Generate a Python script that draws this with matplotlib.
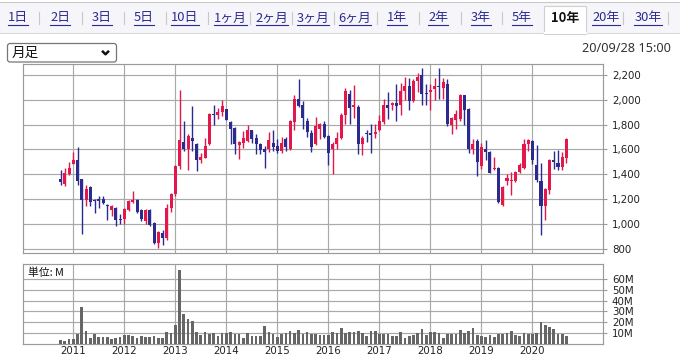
import numpy as np
import matplotlib
matplotlib.use('Agg')
import matplotlib.pyplot as plt
from matplotlib.patches import Rectangle, FancyBboxPatch

# ---------------- data (monthly, Oct 2010 .. Sep 2020) ----------------
years = ['2011', '2012', '2013', '2014', '2015', '2016', '2017', '2018', '2019', '2020']
first_month_offset = 3  # Oct, Nov, Dec 2010 precede Jan 2011

opens = [
    1360, 1323, 1400,
    1483, 1515, 1360, 1195, 1299, 1195, 1200, 1200, 1155, 1110, 1131, 1043,
    1043, 1109, 1176, 1192, 1112, 1021, 1115, 1008, 845, 924, 884, 1125,
    1240, 1466, 1662, 1600, 1694, 1645, 1511, 1533, 1640, 1885, 1877, 1903,
    1922, 1823, 1774, 1635, 1654, 1667, 1753, 1694, 1640, 1606, 1603, 1654,
    1625, 1585, 1687, 1606, 1822, 2003, 1957, 1830, 1733, 1641, 1768, 1808,
    1706, 1600, 1641, 1695, 1876, 2043, 1938, 1943, 1641, 1733, 1729, 1724,
    1759, 1818, 1959, 1954, 1973, 1954, 2070, 2108, 1989, 2149, 2198, 2054,
    2060, 2087, 2108, 2095, 2125, 1797, 1837, 1846, 2035, 1927, 1602, 1665,
    1467, 1603, 1583, 1442, 1450, 1152, 1343, 1343, 1343, 1415, 1450, 1640,
    1669, 1478, 1343, 1143, 1277, 1512, 1487, 1455, 1527,
]
highs = [
    1435, 1448, 1501,
    1576, 1621, 1365, 1315, 1307, 1200, 1227, 1227, 1163, 1155, 1136, 1077,
    1128, 1195, 1265, 1200, 1117, 1120, 1120, 1013, 945, 950, 1160, 1250,
    1475, 2075, 1828, 1721, 1949, 1652, 1573, 1694, 1895, 1960, 1935, 2000,
    1925, 1830, 1780, 1667, 1748, 1800, 1757, 1720, 1654, 1625, 1741, 1754,
    1687, 1700, 1700, 1835, 2038, 2170, 1992, 1849, 1754, 1862, 1814, 1830,
    1714, 1660, 1741, 1889, 2092, 2078, 2119, 1957, 1706, 1754, 1805, 1805,
    1873, 2008, 2062, 1981, 2125, 2135, 2179, 2171, 2163, 2211, 2252, 2130,
    2125, 2171, 2252, 2171, 2163, 1859, 1913, 2043, 2040, 1930, 1685, 1683,
    1650, 1674, 1588, 1540, 1455, 1303, 1400, 1417, 1424, 1490, 1686, 1686,
    1672, 1635, 1490, 1290, 1526, 1585, 1594, 1580, 1695,
]
lows = [
    1315, 1307, 1395,
    1480, 1315, 920, 1147, 1147, 1091, 1128, 1163, 1029, 1064, 981, 1000,
    1003, 1101, 1171, 1091, 1021, 1003, 981, 835, 805, 832, 871, 1100,
    1226, 1439, 1590, 1431, 1587, 1425, 1492, 1528, 1635, 1800, 1842, 1868,
    1833, 1640, 1560, 1520, 1610, 1660, 1655, 1560, 1560, 1450, 1579, 1587,
    1571, 1575, 1587, 1598, 1754, 1943, 1768, 1700, 1579, 1633, 1687, 1695,
    1471, 1403, 1606, 1687, 1808, 1808, 1849, 1565, 1552, 1660, 1575, 1691,
    1751, 1805, 1846, 1913, 1832, 1873, 1995, 1913, 1985, 2062, 1954, 1954,
    1913, 1995, 2008, 2008, 1791, 1724, 1764, 1832, 1800, 1575, 1560, 1383,
    1440, 1515, 1408, 1437, 1168, 1145, 1313, 1230, 1340, 1410, 1445, 1590,
    1480, 1337, 908, 1036, 1243, 1440, 1434, 1437, 1490,
]
closes = [
    1339, 1413, 1453,
    1515, 1349, 1195, 1280, 1173, 1184, 1187, 1165, 1141, 1147, 1029, 1029,
    1120, 1181, 1192, 1096, 1040, 1109, 995, 848, 937, 884, 1125, 1240,
    1466, 1672, 1600, 1707, 1667, 1511, 1538, 1627, 1882, 1878, 1898, 1946,
    1836, 1766, 1640, 1662, 1694, 1753, 1680, 1640, 1595, 1579, 1673, 1619,
    1587, 1650, 1619, 1830, 2003, 1949, 1849, 1741, 1619, 1787, 1808, 1700,
    1571, 1646, 1695, 1876, 2070, 1930, 1957, 1641, 1695, 1722, 1718, 1743,
    1827, 1954, 1932, 1973, 1949, 2070, 2108, 1989, 2149, 2184, 2049, 2043,
    2081, 2108, 2098, 2144, 1805, 1851, 1886, 2035, 1919, 1604, 1645, 1496,
    1621, 1576, 1410, 1450, 1175, 1298, 1370, 1357, 1421, 1478, 1640, 1675,
    1512, 1357, 1143, 1280, 1517, 1496, 1455, 1535, 1680,
]
volumes_m = [
    3.4, 2.4, 4.3,
    4.3, 9.0, 33.7, 11.8, 5.6, 9.0, 6.5, 6.5, 6.5, 4.0, 5.0, 6.2,
    8.0, 8.0, 7.0, 5.0, 7.0, 6.5, 6.5, 7.0, 5.6, 5.6, 10.5, 10.2,
    17.4, 69.0, 27.8, 23.0, 21.2, 11.2, 8.0, 10.5, 9.3, 9.6, 7.4, 9.6,
    9.6, 10.5, 9.3, 9.3, 5.6, 9.6, 7.4, 7.4, 7.4, 16.5, 10.5, 9.0,
    6.2, 9.0, 9.6, 11.8, 9.6, 12.4, 8.7, 10.5, 8.7, 9.0, 7.7, 7.7,
    8.0, 10.5, 9.6, 14.3, 9.6, 10.5, 10.5, 11.5, 9.6, 7.4, 11.5, 11.5,
    9.0, 9.0, 9.0, 7.0, 7.4, 10.5, 5.6, 7.4, 8.0, 9.6, 13.7, 8.0,
    10.5, 11.2, 9.6, 5.6, 9.0, 9.0, 8.7, 12.4, 9.6, 11.5, 14.6, 8.0,
    7.0, 6.2, 8.0, 6.5, 9.3, 8.7, 9.6, 11.5, 8.0, 7.0, 9.6, 9.3,
    9.3, 9.6, 20.0, 17.4, 15.0, 13.7, 9.3, 9.3, 7.0,
]
price_ticks = [800, 1000, 1200, 1400, 1600, 1800, 2000, 2200]
volume_ticks = [10, 20, 30, 40, 50, 60]

tabs = ['1日', '2日', '3日', '5日', '10日', '1ヶ月', '2ヶ月', '3ヶ月', '6ヶ月',
        '1年', '2年', '3年', '5年', '10年', '20年', '30年']
selected_tab = '10年'
period_label = '月足'
timestamp = '20/09/28 15:00'
unit_label = '単位: M'

n = len(opens)
assert n == len(highs) == len(lows) == len(closes) == len(volumes_m)

# ---------------- figure ----------------
W, H = 680, 357
fig = plt.figure(figsize=(W / 100, H / 100), dpi=100)
fig.patch.set_facecolor('white')

def axes_px(l, t, r, b, **kw):
    return fig.add_axes([l / W, 1 - b / H, (r - l) / W, (b - t) / H], **kw)

RED = '#e3174b'
NAVY = '#2b2a8e'
GRID = '#a9a9a9'
SPINE = '#9a9a9a'
TXT = '#222222'
CJK = ['Noto Sans CJK JP', 'DejaVu Sans']

x = np.arange(n)
xmin, xmax = -8.84, 127.6
year_pos = [first_month_offset + 12 * i for i in range(len(years))]

o = np.array(opens, float); c = np.array(closes, float)
h = np.array(highs, float); lo = np.array(lows, float)
up = c >= o
colors = np.where(up, RED, NAVY)

# price axes
ax = axes_px(23, 64, 603, 252.7)
ax.set_xlim(xmin, xmax)
ax.set_ylim(769, 2287)
ax.vlines(x, lo, h, colors=colors, lw=1.0, zorder=3)
body_bottom = np.minimum(o, c)
body_h = np.maximum(np.abs(c - o), 7)
ax.bar(x, body_h, bottom=body_bottom, width=0.74, color=colors, lw=0, zorder=4)
ax.set_yticks(price_ticks)
ax.set_yticklabels([f'{v:,}' for v in price_ticks])
ax.set_xticks(year_pos)
ax.set_xticklabels([])
ax.yaxis.tick_right()
ax.tick_params(axis='y', length=3.2, width=0.8, color=SPINE, pad=3.2, labelsize=7.4, labelcolor=TXT)
ax.tick_params(axis='x', length=0)
ax.grid(True, color=GRID, lw=0.85, zorder=0)
ax.set_axisbelow(True)
for s in ax.spines.values():
    s.set_color(SPINE); s.set_linewidth(0.85)

# volume axes
vx = axes_px(23, 264, 603, 343.5)
vx.set_xlim(xmin, xmax)
vx.set_ylim(0, 74.2)
vx.bar(x, volumes_m, width=0.64, color='#666666', lw=0, zorder=3)
vx.set_yticks(volume_ticks)
vx.set_yticklabels([f'{v}M' for v in volume_ticks])
vx.yaxis.tick_right()
vx.set_xticks(year_pos)
vx.set_xticklabels(years)
vx.tick_params(axis='y', length=3.2, width=0.8, color=SPINE, pad=3.2, labelsize=7.4, labelcolor=TXT)
vx.tick_params(axis='x', length=0, pad=1.5, labelsize=7.4, labelcolor=TXT)
vx.grid(True, color=GRID, lw=0.85, zorder=0)
vx.set_axisbelow(True)
for s in vx.spines.values():
    s.set_color(SPINE); s.set_linewidth(0.85)

# ---------------- UI overlay ----------------
ui = fig.add_axes([0, 0, 1, 1], zorder=10)
ui.set_xlim(0, W); ui.set_ylim(H, 0); ui.axis('off')

ui.add_patch(Rectangle((0, 2), W, 31, fc='#f6f6fa', ec='none'))
ui.plot([0, W], [2, 2], color='#c9c9c9', lw=0.8)
ui.plot([0, 544], [33, 33], color='#d9d9d9', lw=0.8)
ui.plot([586, W], [33, 33], color='#d9d9d9', lw=0.8)
ui.add_patch(Rectangle((544, 5.5), 42, 28, fc='white', ec='#d0d0d0', lw=0.8))
ui.plot([544.5, 585.5], [33.3, 33.3], color='white', lw=1.5)

tab_x = [18, 60, 102, 144, 185, 230, 272, 313, 355, 397, 438, 481, 522, 565, 606, 648]
sep_x = [39, 82, 124, 166, 208, 250, 292, 334, 377, 419, 461, 502, 623, 668]
for sx in sep_x:
    ui.plot([sx, sx], [12, 24], color='#c8c8c8', lw=0.8)

tab_texts = []
for lbl, tx in zip(tabs, tab_x):
    sel = lbl == selected_tab
    t = ui.text(tx, 18, lbl, ha='center', va='center', fontsize=9.3, family=CJK,
                color='#111111' if sel else '#2c2a92',
                fontweight='bold' if sel else 'normal')
    tab_texts.append((t, sel))

# dropdown
ui.add_patch(FancyBboxPatch((7.5, 43.5), 109, 18.5, boxstyle='round,pad=0,rounding_size=2.5',
                            fc='white', ec='#767676', lw=0.9))
ui.text(12, 53, period_label, ha='left', va='center', fontsize=9.8, family=CJK, color='#111111')
ui.plot([102, 105.5, 109], [50.8, 54.3, 50.8], color='#111111', lw=1.8, solid_capstyle='butt')

ui.text(671, 49, timestamp, ha='right', va='center', fontsize=9.2, family=['Noto Sans', 'DejaVu Sans'],
        color='#333333')
ui.text(28, 272.5, unit_label, ha='left', va='center', fontsize=7.8, family=CJK, color='#111111')

# underline links
fig.canvas.draw()
r = fig.canvas.get_renderer()
inv = ui.transData.inverted()
for t, sel in tab_texts:
    if sel:
        continue
    bb = t.get_window_extent(r)
    (x0, _), (x1, _) = inv.transform([[bb.x0, bb.y0], [bb.x1, bb.y1]])
    ui.plot([x0, x1], [25.2, 25.2], color='#2c2a92', lw=0.8)

fig.savefig('out.png', dpi=100, facecolor='white')
